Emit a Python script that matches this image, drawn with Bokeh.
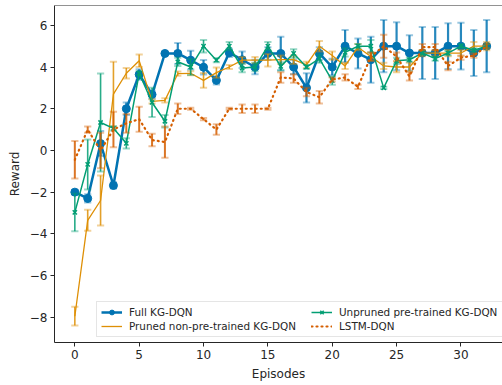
from bokeh.plotting import figure
from bokeh.models import Range1d, FixedTicker, Legend, LegendItem, Span, ColumnDataSource
from bokeh.embed import file_html
from bokeh.resources import INLINE

episodes = list(range(33))

full_kg = [-2.0, -2.3, 0.33, -1.68, 2.0, 3.64, 2.68, 4.65, 4.65, 4.33, 3.99, 3.36, 4.68, 4.35, 4.0, 4.65,
           4.65, 4.0, 3.0, 4.65, 4.0, 5.0, 4.65, 4.35, 5.0, 5.0, 4.67, 4.67, 4.67, 5.0, 5.0, 4.67, 5.0]
full_kg_err = [0.1, 0.2, 0.6, 0.15, 0.3, 0.25, 0.2, 0.05, 0.5, 0.45, 0.35, 0.2, 0.2, 0.4, 0.35, 0.3,
               0.8, 0.35, 0.7, 0.3, 0.4, 0.77, 0.72, 1.1, 1.25, 1.15, 0.85, 1.25, 1.25, 1.1, 1.12, 1.1, 1.25]

pruned = [-7.95, -3.35, -2.4, 2.7, 3.7, 4.3, 2.35, 2.4, 3.68, 3.7, 3.36, 3.73, 4.0, 4.33, 4.33, 4.33,
          4.35, 4.35, 4.1, 5.0, 4.55, 4.05, 4.95, 4.5, 4.05, 4.0, 4.0, 4.67, 4.67, 4.67, 4.67, 5.0, 5.0]
pruned_err = [0.45, 0.5, 1.2, 1.55, 0.25, 0.3, 0.1, 0.1, 0.1, 0.1, 0.35, 0.25, 0.1, 0.15, 0.15, 0.3,
              0.2, 0.2, 0.15, 0.25, 0.2, 0.15, 0.15, 0.2, 0.15, 0.25, 0.2, 0.15, 0.15, 0.15, 0.15, 0.2, 0.2]

unpruned = [-2.97, -0.67, 1.34, 1.06, 0.34, 3.7, 2.3, 1.4, 4.25, 4.0, 5.0, 4.33, 5.0, 3.95, 4.0, 5.0,
            4.03, 4.65, 4.0, 4.4, 3.35, 4.7, 5.0, 5.0, 3.0, 4.3, 4.35, 4.67, 4.4, 4.67, 5.0, 4.8, 5.0]
unpruned_err = [0.9, 1.2, 2.35, 0.1, 0.25, 0.1, 0.7, 0.3, 0.2, 0.38, 0.3, 0.1, 0.2, 0.2, 0.2, 0.2,
                0.2, 0.2, 0.1, 0.2, 0.2, 0.2, 0.1, 0.3, 0.05, 0.15, 0.1, 0.1, 0.1, 0.1, 0.1, 0.1, 0.1]

lstm = [-0.45, 1.0, 0.0, 1.0, 1.3, 1.5, 0.5, 0.4, 2.0, 2.0, 1.5, 1.0, 2.0, 2.0, 2.0, 2.0,
        3.5, 3.45, 2.8, 2.55, 3.4, 3.5, 3.05, 4.5, 5.0, 4.5, 3.55, 4.95, 4.95, 4.05, 4.45, 4.55, 5.0]
lstm_err = [0.9, 0.15, 0.85, 0.85, 0.45, 0.6, 0.3, 0.75, 0.25, 0.05, 0.05, 0.25, 0.05, 0.2, 0.2, 0.05,
            0.25, 0.2, 0.2, 0.3, 0.1, 0.15, 0.1, 0.2, 0.55, 0.2, 0.2, 0.15, 0.15, 0.2, 0.1, 0.1, 0.1]

labels = ["Full KG-DQN", "Pruned non-pre-trained KG-DQN", "Unpruned pre-trained KG-DQN", "LSTM-DQN"]
colors = ["#0173B2", "#DE8F05", "#029E73", "#D55E00"]

x_ticks = [0, 5, 10, 15, 20, 25, 30]
y_ticks = [-8, -6, -4, -2, 0, 2, 4, 6]

FONT = "DejaVu Sans"
Y_TOP = 6.95

p = figure(width=502, height=385, x_range=Range1d(-1.58, 33.23), y_range=Range1d(-9.21, Y_TOP),
           output_backend="svg", toolbar_location=None,
           min_border_left=54, min_border_bottom=43, min_border_top=5, min_border_right=0)
p.outline_line_color = None
p.grid.visible = False
p.background_fill_color = "white"
p.border_fill_color = "white"

for ax in (p.xaxis[0], p.yaxis[0]):
    ax.major_label_text_font = FONT
    ax.major_label_text_font_size = "12px"
    ax.major_label_text_color = "#262626"
    ax.axis_label_text_font = FONT
    ax.axis_label_text_font_size = "12px"
    ax.axis_label_text_font_style = "normal"
    ax.axis_label_text_color = "#262626"
    ax.axis_line_color = "#262626"
    ax.major_tick_line_color = "#262626"
    ax.major_tick_in = 0
    ax.major_tick_out = 4
    ax.minor_tick_line_color = None
    ax.major_label_standoff = 3
    ax.axis_label_standoff = 5

p.xaxis.ticker = FixedTicker(ticks=x_ticks)
p.yaxis.ticker = FixedTicker(ticks=y_ticks)
p.xaxis.axis_label = "Episodes"
p.yaxis.axis_label = "Reward"

p.add_layout(Span(location=Y_TOP, dimension="width", line_color="#262626", line_width=1.2))

series = [full_kg, pruned, unpruned, lstm]
errs = [full_kg_err, pruned_err, unpruned_err, lstm_err]
line_widths = [2.5, 1.3, 1.5, 2.2]
bar_widths = [2.2, 1.6, 1.6, 2.0]
cap_half = 0.28

items = []
for i, (ys, es) in enumerate(zip(series, errs)):
    c = colors[i]
    lo = [y - e for y, e in zip(ys, es)]
    hi = [y + e for y, e in zip(ys, es)]
    src = ColumnDataSource(dict(x=episodes, y=ys, lo=lo, hi=hi,
                                xl=[x - cap_half for x in episodes], xr=[x + cap_half for x in episodes]))
    p.segment(x0="x", y0="lo", x1="x", y1="hi", source=src, line_color=c, line_width=bar_widths[i], line_alpha=0.85)
    p.segment(x0="xl", y0="lo", x1="xr", y1="lo", source=src, line_color=c, line_width=2, line_alpha=0.4)
    p.segment(x0="xl", y0="hi", x1="xr", y1="hi", source=src, line_color=c, line_width=2, line_alpha=0.4)
    rs = []
    if i == 3:
        rs.append(p.line("x", "y", source=src, line_color=c, line_width=line_widths[i], line_dash="1 4", line_cap="round"))
    else:
        rs.append(p.line("x", "y", source=src, line_color=c, line_width=line_widths[i]))
    if i == 0:
        rs.append(p.scatter("x", "y", source=src, marker="circle", size=8, fill_color=c, line_color=c))
    elif i == 2:
        rs.append(p.scatter("x", "y", source=src, marker="x", size=6, line_color=c, line_width=1.5))
    items.append(LegendItem(label=labels[i], renderers=rs))

legend = Legend(items=[items[0], items[1], items[2], items[3]], ncols=2,
                location=(42, 5), label_text_font=FONT, label_text_font_size="10.4px",
                label_text_color="#262626", label_height=12, glyph_height=12, glyph_width=21,
                label_standoff=7, spacing=2, padding=4, margin=0, label_width=180,
                border_line_color="#cccccc", border_line_width=1,
                background_fill_alpha=0.85)
p.add_layout(legend, "center")

open("out.html", "w").write(file_html(p, INLINE))
